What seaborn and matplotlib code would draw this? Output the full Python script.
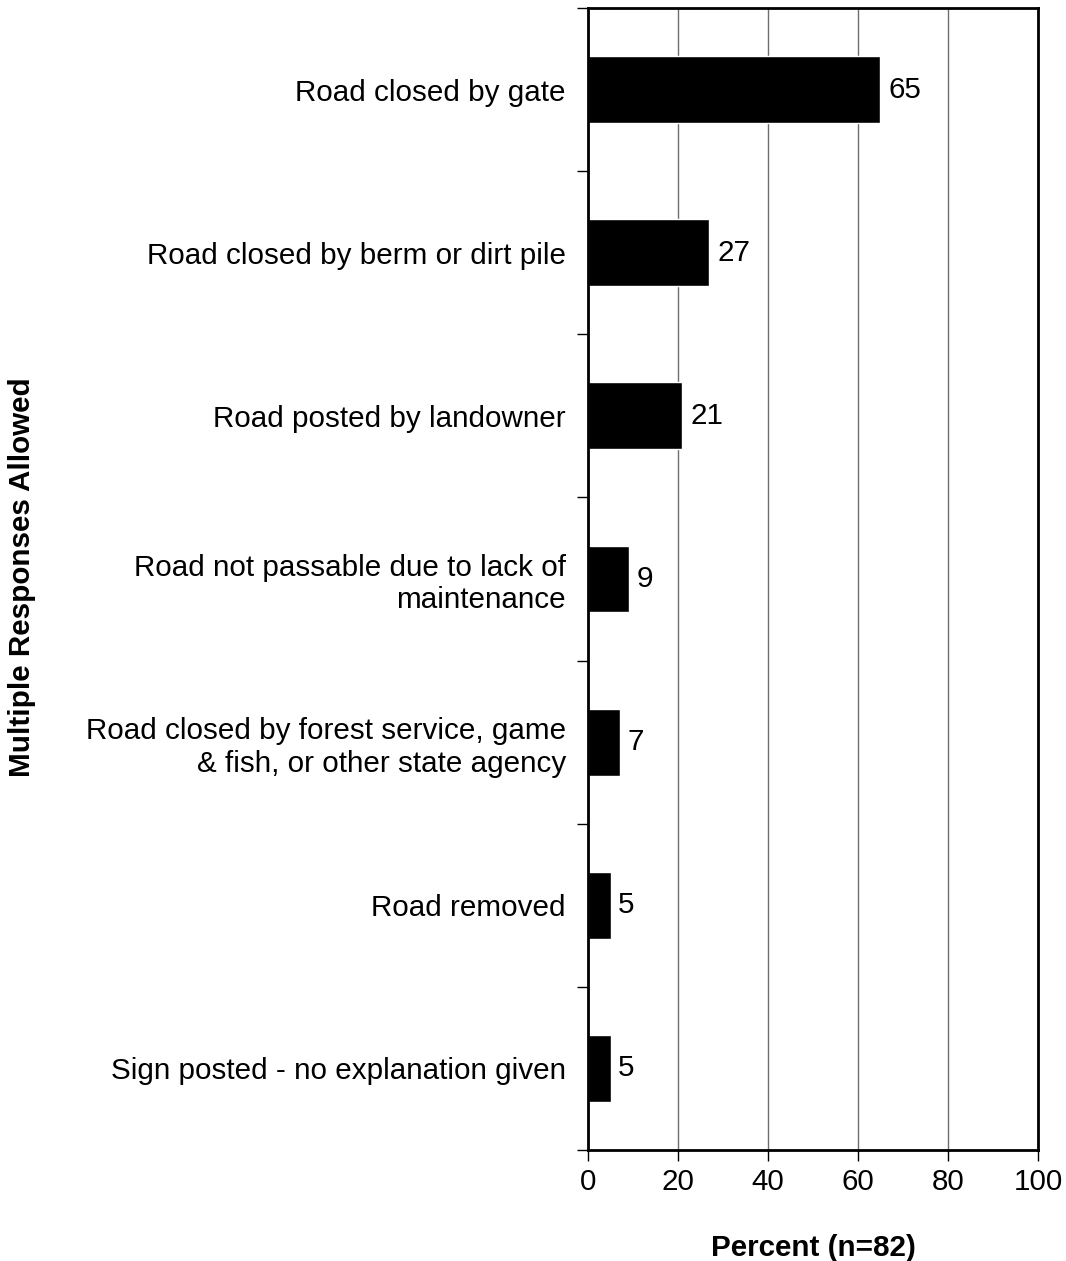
import matplotlib
matplotlib.use("Agg")
import matplotlib.pyplot as plt
import seaborn as sns
import pandas as pd
import numpy as np

categories = [
    "Road closed by gate",
    "Road closed by berm or dirt pile",
    "Road posted by landowner",
    "Road not passable due to lack of\nmaintenance",
    "Road closed by forest service, game\n& fish, or other state agency",
    "Road removed",
    "Sign posted - no explanation given",
]
values = [65, 27, 21, 9, 7, 5, 5]
labels = ["65", "27", "21", "9", "7", "5", "5"]
xticks = [0, 20, 40, 60, 80, 100]

sns.set_theme(style="white")
plt.rcParams['font.family'] = ['Liberation Sans', 'DejaVu Sans']
plt.rcParams['text.color'] = 'black'
plt.rcParams['xtick.color'] = 'black'
plt.rcParams['ytick.color'] = 'black'
plt.rcParams['axes.labelcolor'] = 'black'

FS = 21.3

df = pd.DataFrame({"cat": categories, "val": values})

fig = plt.figure(figsize=(10.66, 12.61), dpi=100)
ax = fig.add_axes([0.5516, 0.088, 0.4221, 0.9057])

sns.barplot(data=df, x="val", y="cat", orient="h", color="black",
            width=0.41, ax=ax, saturation=1)

ax.set_xlim(0, 100)
ax.set_ylim(len(categories) - 0.5, -0.5)
ax.set_xticks(xticks)
ax.set_xticklabels([str(t) for t in xticks], fontsize=FS)
ax.xaxis.grid(True, color="#6e6e6e", linewidth=1.0)
ax.set_axisbelow(True)

ax.set_yticks(np.arange(len(categories)))
ax.set_yticklabels(categories, fontsize=FS, linespacing=1.2)
ax.tick_params(axis="y", length=0, pad=16)
ax.set_yticks(np.arange(len(categories) + 1) - 0.5, minor=True)
ax.tick_params(axis="y", which="minor", length=8, width=1, color="black", left=True)
ax.tick_params(axis="x", length=8, width=1, color="black", bottom=True, pad=5)

for s in ax.spines.values():
    s.set_visible(True)
    s.set_color("black")
    s.set_linewidth(2)

for i, (v, l) in enumerate(zip(values, labels)):
    ax.text(v + 1.7, i, l, va="center", ha="left", fontsize=FS, color="black")

ax.set_xlabel("Percent (n=82)", fontsize=FS, fontweight="bold", labelpad=27)
ax.set_ylabel("")
fig.text(0.021, 0.5424, "Multiple Responses Allowed", rotation=90, fontsize=FS,
         fontweight="bold", va="center", ha="center")

fig.savefig("out.png", dpi=100, facecolor="white")
